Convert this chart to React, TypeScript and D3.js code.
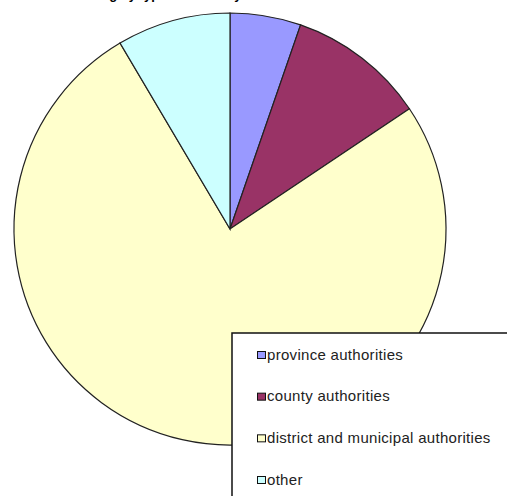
import React from "react";
import * as d3 from "d3";

const categories = [
  "province authorities",
  "county authorities",
  "district and municipal authorities",
  "other",
];
const values = [5.3, 10.3, 75.9, 8.5];
const colors = ["#9999ff", "#993366", "#ffffcc", "#ccffff"];
const titleText = "Funding by type of authority";

export default function App() {
  const W = 507;
  const H = 496;
  const cx = 230;
  const cy = 229;
  const r = 216;
  const pie = d3.pie<number>().sort(null).value((d) => d);
  const arcs = pie(values);
  const arc = d3.arc<d3.PieArcDatum<number>>().innerRadius(0).outerRadius(r);

  const legendX = 232;
  const legendY = 333;
  const itemY = d3.scalePoint<string>().domain(categories).range([355, 480]);

  return (
    <svg
      width={W}
      height={H}
      style={{ position: "absolute", left: 0, top: 0, display: "block", background: "#fff" }}
      fontFamily="'Liberation Sans', Arial, sans-serif"
    >
      <text x={66} y={-1.5} fontSize={13} fontWeight="bold" fill="#000">
        {titleText}
      </text>
      <g transform={`translate(${cx},${cy})`}>
        {arcs.map((a, i) => (
          <path key={i} d={arc(a) || ""} fill={colors[i]} stroke="#222" strokeWidth={1.2} />
        ))}
      </g>
      <rect
        x={legendX}
        y={legendY}
        width={W - legendX + 10}
        height={H - legendY + 10}
        fill="#fff"
        stroke="#111"
        strokeWidth={1.5}
      />
      {categories.map((c, i) => {
        const y = itemY(c) as number;
        return (
          <g key={c}>
            <rect x={257.5} y={y - 3.5} width={8} height={7} fill={colors[i]} stroke="#111" strokeWidth={1} />
            <text x={267} y={y + 4.5} fontSize={15} fill="#222" letterSpacing={0.3}>
              {c}
            </text>
          </g>
        );
      })}
    </svg>
  );
}
